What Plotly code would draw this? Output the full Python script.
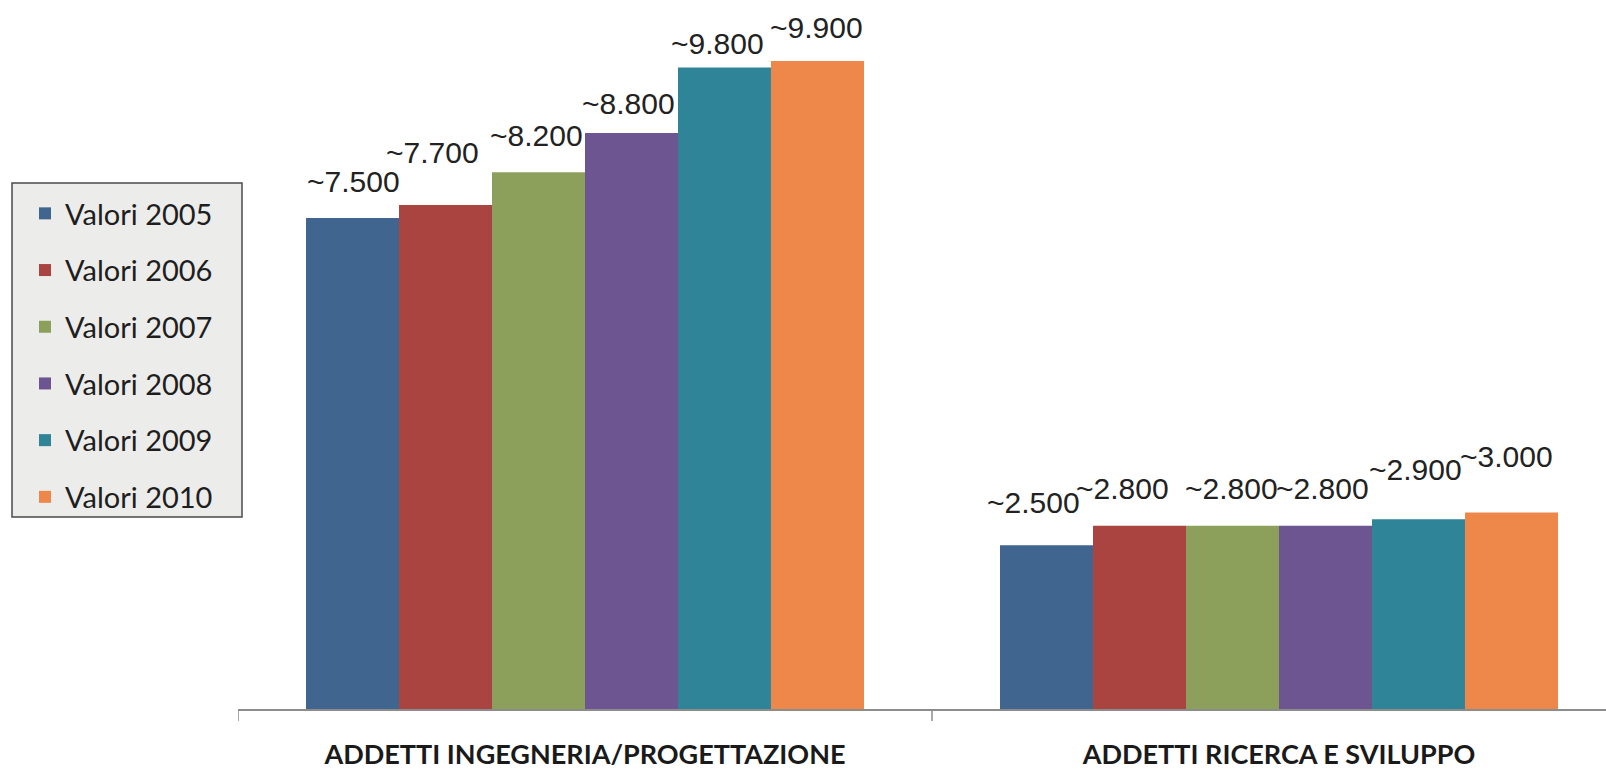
import plotly.graph_objects as go

# Data
categories = ["ADDETTI INGEGNERIA/PROGETTAZIONE", "ADDETTI RICERCA E SVILUPPO"]
series_names = ["Valori 2005", "Valori 2006", "Valori 2007", "Valori 2008", "Valori 2009", "Valori 2010"]
values_2005 = [7500, 2500]
values_2006 = [7700, 2800]
values_2007 = [8200, 2800]
values_2008 = [8800, 2800]
values_2009 = [9800, 2900]
values_2010 = [9900, 3000]
all_values = [values_2005, values_2006, values_2007, values_2008, values_2009, values_2010]

colors = ["#40668f", "#a94441", "#8ca05b", "#6c5590", "#2f8497", "#ee884a"]

# Per-label nudges (px) for the value captions: [category][series]
label_dx = [[1, -13, -2, -3, -7, -1], [-13, -17, -1, -3, -3, -5]]
label_dy = [[18, 34, 18, 11, 5, 15], [24, 19, 19, 19, 31, 38]]

W, H = 1606, 773
PLOT_L, PLOT_B = 238, 64
PLOT_W, PLOT_H = W - PLOT_L, H - PLOT_B
CAT_PX = 694
BARGAP = 0.196
N = len(series_names)


def fmt(v):
    return "~" + f"{v:,}".replace(",", ".")


fig = go.Figure()
for j, (name, vals) in enumerate(zip(series_names, all_values)):
    fig.add_trace(go.Bar(
        x=list(range(len(categories))), y=vals, name=name,
        marker=dict(color=colors[j], line=dict(width=0)),
        legendgroup=name,
    ))

# value captions above each bar
group_w = 1 - BARGAP
for i in range(len(categories)):
    for j, vals in enumerate(all_values):
        xc = i - group_w / 2 + (j + 0.5) * group_w / N
        fig.add_annotation(
            x=xc, y=vals[i], text=fmt(vals[i]), showarrow=False,
            xanchor="center", yanchor="bottom",
            xshift=label_dx[i][j], yshift=label_dy[i][j],
            font=dict(family="Liberation Sans, Arial", size=30, color="#222222"),
        )

# legend frame
def px_x(p):
    return (p - PLOT_L) / PLOT_W


def px_y(p):
    return (PLOT_H - p) / PLOT_H


fig.add_shape(type="rect", xref="paper", yref="paper",
              x0=px_x(12), x1=px_x(242), y0=px_y(517), y1=px_y(183),
              fillcolor="#ececea", line=dict(color="#4a4a4a", width=1.5), layer="below")

fig.update_layout(
    width=W, height=H,
    margin=dict(l=PLOT_L, r=0, t=0, b=PLOT_B, pad=0, autoexpand=False),
    paper_bgcolor="white", plot_bgcolor="white",
    barmode="group", bargap=BARGAP, bargroupgap=0,
    showlegend=True,
    legend=dict(
        xref="container", yref="container",
        x=25 / W, y=1 - 188 / H, xanchor="left", yanchor="top",
        bgcolor="rgba(0,0,0,0)", borderwidth=0,
        font=dict(family="Lato, Open Sans", size=29, color="#1e1e1e"),
        traceorder="grouped", tracegroupgap=16,
        itemclick=False,
    ),
    xaxis=dict(
        type="linear", range=[-0.5, -0.5 + PLOT_W / CAT_PX],
        tickmode="array", tickvals=list(range(len(categories))), ticktext=categories,
        ticks="", showgrid=False, zeroline=False, automargin=False,
        showline=True, linecolor="#8c8c8c", linewidth=1.5,
        tickfont=dict(family="Lato, Open Sans", size=27, color="#1a1a1a", weight="bold"),
        ticklabelstandoff=21,
    ),
    yaxis=dict(range=[0, 10830], visible=False, showgrid=False, zeroline=False,
               automargin=False),
)

# category boundary ticks along the base line
for b in [-0.5, 0.5, 1.5]:
    fig.add_shape(type="line", xref="x", yref="paper", x0=b, x1=b, y0=0, y1=-12 / PLOT_H,
                  line=dict(color="#8c8c8c", width=1.5))

fig.write_html("out.html")
